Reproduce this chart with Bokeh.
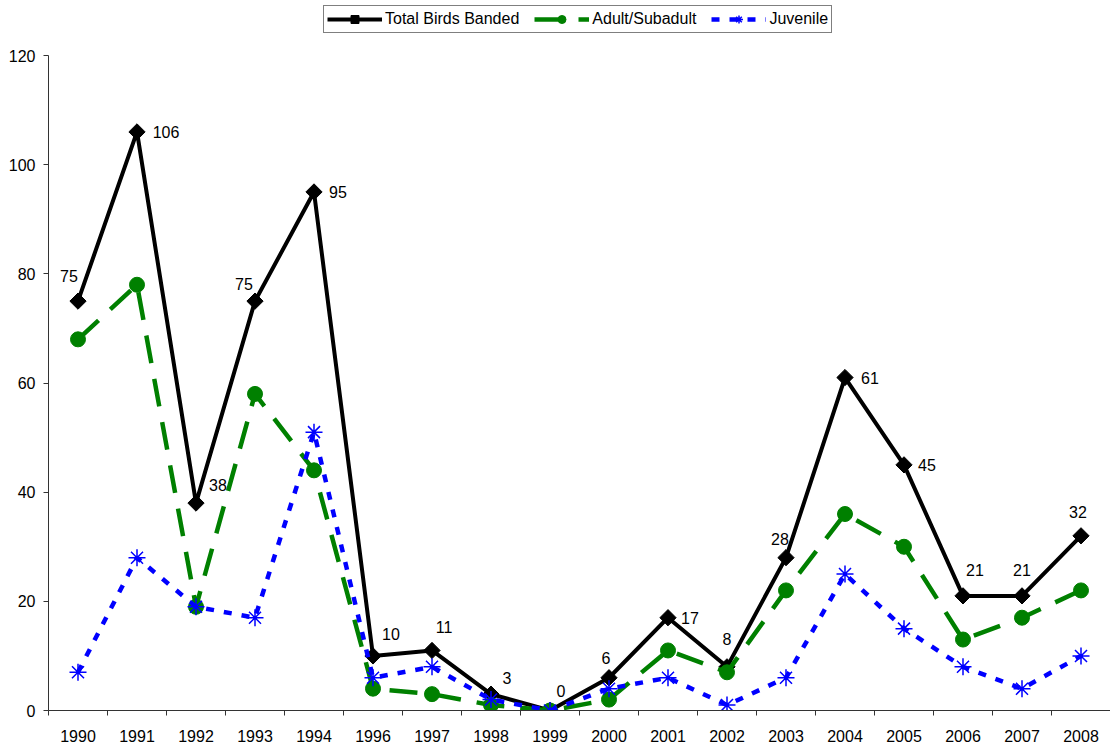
import math
from bokeh.plotting import figure
from bokeh.models import (Range1d, FixedTicker, Legend, LegendItem, ColumnDataSource)
from bokeh.core.properties import value
from bokeh.embed import file_html
from bokeh.resources import INLINE

years = ["1990", "1991", "1992", "1993", "1994", "1996", "1997", "1998", "1999",
         "2000", "2001", "2002", "2003", "2004", "2005", "2006", "2007", "2008"]
total = [75, 106, 38, 75, 95, 10, 11, 3, 0, 6, 17, 8, 28, 61, 45, 21, 21, 32]
adult = [68, 78, 19, 58, 44, 4, 3, 1, 0, 2, 11, 7, 22, 36, 30, 13, 17, 22]
juvenile = [7, 28, 19, 17, 51, 6, 8, 2, 0, 4, 6, 1, 6, 25, 15, 8, 4, 10]
y_ticks = [0, 20, 40, 60, 80, 100, 120]

# label placement offsets (screen px, dy positive = upwards) for total labels
label_dx = [-9, 29, 22, -11, 24, 18, 12, 16, 11, -3, 22, 0, -6, 25, 23, 12, 0, -3]
label_dy = [25, 0, 18, 17, 0, 22, 23, 16, 20, 20, 0, 28, 19, 0, 0, 26, 26, 24]

FONT = "Liberation Sans"
FS = "16px"
n = len(years)
xs = [i + 0.5 for i in range(n)]

W, H = 1110, 744
BOTTOM, LEFT = 34, 48
FRAME_H = H - BOTTOM
AXIS_TOP_PX = 55  # where the value 120 sits from the top of the page
y_max = 120
y_end = y_max * FRAME_H / (FRAME_H - AXIS_TOP_PX)

p = figure(width=W, height=H, output_backend="svg", toolbar_location=None,
           x_range=Range1d(0, n), y_range=Range1d(0, y_end))
p.min_border_left = LEFT
p.min_border_right = 0
p.min_border_top = 0
p.min_border_bottom = BOTTOM
p.outline_line_color = None
p.xgrid.grid_line_color = None
p.ygrid.grid_line_color = None
p.background_fill_color = "white"
p.border_fill_color = "white"

# x axis: labels at category centres, tick marks between categories
xax = p.xaxis[0]
xax.ticker = FixedTicker(ticks=xs, minor_ticks=list(range(n + 1)))
xax.major_label_overrides = {x: y for x, y in zip(xs, years)}
xax.major_tick_out = 0
xax.major_tick_in = 0
xax.minor_tick_out = 5
xax.minor_tick_in = 0
xax.minor_tick_line_color = "#333333"
xax.axis_line_color = "#333333"
xax.major_label_text_font = FONT
xax.major_label_text_font_size = FS
xax.major_label_text_color = "black"
xax.major_label_standoff = 14

yax = p.yaxis[0]
yax.ticker = FixedTicker(ticks=y_ticks, minor_ticks=[])
yax.bounds = (0, y_max)
yax.major_tick_out = 5
yax.major_tick_in = 0
yax.major_tick_line_color = "#333333"
yax.axis_line_color = "#333333"
yax.major_label_text_font = FONT
yax.major_label_text_font_size = FS
yax.major_label_text_color = "black"
yax.major_label_standoff = 8

src = ColumnDataSource(dict(x=xs, total=total, adult=adult, juv=juvenile,
                            lab=[str(v) for v in total], dx=label_dx,
                            dy=[-d for d in label_dy]))

l_tot = p.line("x", "total", source=src, line_color="black", line_width=4)
m_tot = p.scatter("x", "total", source=src, marker="square", angle=math.pi / 4,
                  size=11.5, fill_color="black", line_color="black")

l_ad = p.line("x", "adult", source=src, line_color="#008000", line_width=4.5,
              line_dash="28 16")
m_ad = p.scatter("x", "adult", source=src, marker="circle", size=15,
                 fill_color="#008000", line_color="#008000")

l_juv = p.line("x", "juv", source=src, line_color="#0000FF", line_width=4.5,
               line_dash="8 10")
m_juv = p.scatter("x", "juv", source=src, marker="asterisk", size=17,
                  fill_color=None, line_color="#0000FF", line_width=1.5)

p.text("x", "total", text="lab", source=src, x_offset="dx", y_offset="dy",
       text_align="center", text_baseline="middle",
       text_font=value(FONT), text_font_size=FS, text_color="black")

legend = Legend(items=[
    LegendItem(label="Total Birds Banded", renderers=[l_tot, m_tot]),
    LegendItem(label="Adult/Subadult", renderers=[l_ad, m_ad]),
    LegendItem(label="Juvenile", renderers=[l_juv, m_juv]),
], orientation="horizontal", location=(275, FRAME_H - 33))
legend.glyph_width = 55
legend.glyph_height = 20
legend.label_standoff = 3
legend.spacing = 15
legend.padding = 3
legend.margin = 0
legend.label_text_font = FONT
legend.label_text_font_size = FS
legend.label_text_color = "black"
legend.border_line_color = "black"
legend.border_line_width = 1
legend.background_fill_color = "white"
legend.background_fill_alpha = 1
p.add_layout(legend, "center")

open("out.html", "w").write(file_html(p, INLINE))
